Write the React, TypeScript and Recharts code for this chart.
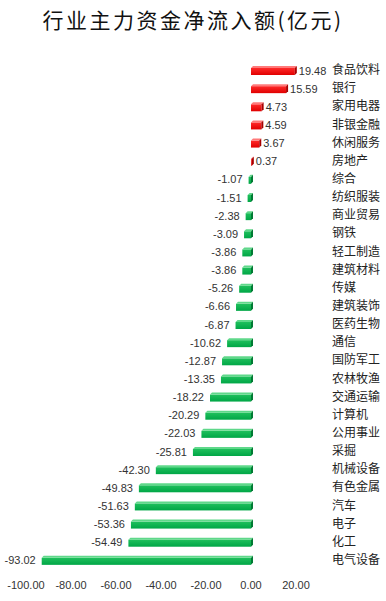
import { BarChart, Bar, XAxis, YAxis, LabelList } from 'recharts';

const industries = [
  '食品饮料', '银行', '家用电器', '非银金融', '休闲服务', '房地产', '综合',
  '纺织服装', '商业贸易', '钢铁', '轻工制造', '建筑材料', '传媒', '建筑装饰',
  '医药生物', '通信', '国防军工', '农林牧渔', '交通运输', '计算机', '公用事业',
  '采掘', '机械设备', '有色金属', '汽车', '电子', '化工', '电气设备',
];

const netInflow = [
  19.48, 15.59, 4.73, 4.59, 3.67, 0.37, -1.07,
  -1.51, -2.38, -3.09, -3.86, -3.86, -5.26, -6.66,
  -6.87, -10.62, -12.87, -13.35, -18.22, -20.29, -22.03,
  -25.81, -42.3, -49.83, -51.63, -53.36, -54.49, -93.02,
];

const xTicks = [-100, -80, -60, -40, -20, 0, 20];

const data = industries.map((name, i) => ({ name, value: netInflow[i] }));

const FONT = '"Liberation Sans", Arial, sans-serif';
const CJK = '"Noto Sans CJK SC", sans-serif';

function Bar3D(props: any) {
  const { x, y, width, height, value } = props;
  const x0 = Math.min(x, x + width);
  const w = Math.abs(width);
  const d = 2;
  const pos = value >= 0;
  const front = pos ? 'url(#redFront)' : 'url(#greenFront)';
  const top = pos ? '#ff7a7a' : '#5fd88a';
  const side = pos ? '#a80000' : '#007a33';
  return (
    <g>
      <rect x={x0} y={y + d} width={w} height={height - d} fill={front} />
      <polygon
        points={`${x0},${y + d} ${x0 + w},${y + d} ${x0 + w + d},${y} ${x0 + d},${y}`}
        fill={top}
      />
      <polygon
        points={`${x0 + w},${y + d} ${x0 + w + d},${y} ${x0 + w + d},${y + height - d} ${x0 + w},${y + height}`}
        fill={side}
      />
    </g>
  );
}

function ValueLabel(props: any) {
  const { x, y, width, height, value } = props;
  const pos = value >= 0;
  const x0 = Math.min(x, x + width);
  const x1 = Math.max(x, x + width);
  return (
    <text
      x={pos ? x1 + 4 : x0 - 6}
      y={y + height / 2 + 4}
      textAnchor={pos ? 'start' : 'end'}
      fontSize={11}
      fontFamily={FONT}
      fill="#333"
    >
      {Number(value).toFixed(2)}
    </text>
  );
}

function CategoryTick(props: any) {
  const { x, y, payload } = props;
  return (
    <text x={x + 28} y={y + 4} textAnchor="start" fontSize={12} fontFamily={CJK} fill="#222">
      {payload.value}
    </text>
  );
}

export default function App() {
  return (
    <div style={{ position: 'absolute', left: 0, top: 0, width: 386, height: 601, background: '#fff' }}>
      <div
        style={{
          position: 'absolute',
          top: 4,
          left: 0,
          width: 386,
          textAlign: 'center',
          fontSize: 21,
          letterSpacing: 2.5,
          fontWeight: 400,
          fontFamily: CJK,
          color: '#111',
        }}
      >
        行业主力资金净流入额(亿元)
      </div>
      <BarChart
        width={386}
        height={601}
        data={data}
        layout="vertical"
        margin={{ top: 61, right: 0, bottom: 12, left: 26 }}
        barCategoryGap={5}
      >
        <defs>
          <linearGradient id="redFront" x1="0" y1="0" x2="0" y2="1">
            <stop offset="0" stopColor="#ff2a2a" />
            <stop offset="1" stopColor="#e00000" />
          </linearGradient>
          <linearGradient id="greenFront" x1="0" y1="0" x2="0" y2="1">
            <stop offset="0" stopColor="#1fc05c" />
            <stop offset="1" stopColor="#00a646" />
          </linearGradient>
        </defs>
        <XAxis
          type="number"
          domain={[-100, 20]}
          ticks={xTicks}
          tickFormatter={(v: number) => v.toFixed(2)}
          axisLine={false}
          tickLine={false}
          tickMargin={6}
          height={20}
          interval={0}
          tick={{ fontSize: 11, fontFamily: FONT, fill: '#333' }}
        />
        <YAxis
          type="category"
          dataKey="name"
          orientation="right"
          width={90}
          axisLine={false}
          tickLine={false}
          interval={0}
          tick={<CategoryTick />}
        />
        <Bar dataKey="value" isAnimationActive={false} barSize={9} shape={<Bar3D />}>
          <LabelList dataKey="value" content={<ValueLabel />} />
        </Bar>
      </BarChart>
    </div>
  );
}
